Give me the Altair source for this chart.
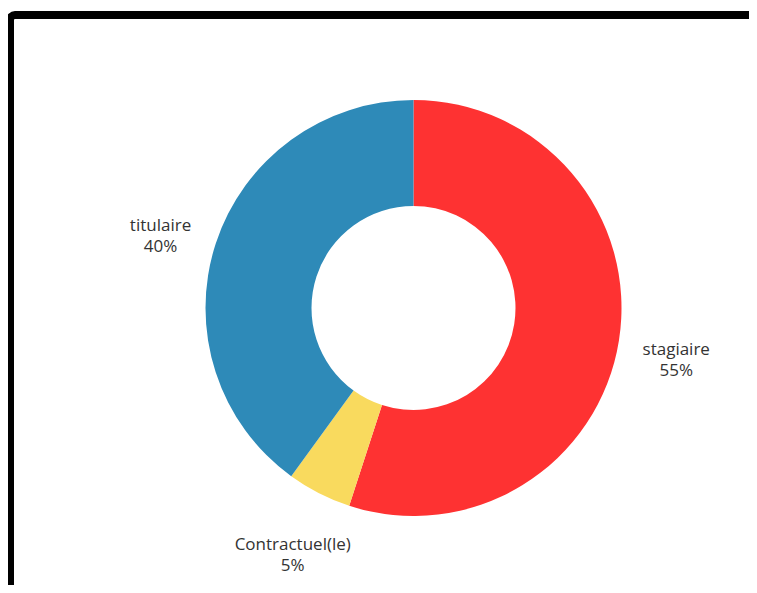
import altair as alt
import pandas as pd

categories = ["stagiaire", "Contractuel(le)", "titulaire"]
values = [55, 5, 40]
colors = ["#FE3232", "#F9DA5E", "#2E8AB8"]

df = pd.DataFrame({
    "categorie": categories,
    "valeur": values,
    "ordre": list(range(len(categories))),
})
df["label"] = [f"{c}\n{v}%" for c, v in zip(categories, values)]

CX, CY = 405.5, 300

base = alt.Chart(df).encode(
    theta=alt.Theta("valeur:Q", stack=True),
    order=alt.Order("ordre:Q"),
    x=alt.value(CX),
    y=alt.value(CY),
)

arcs = base.mark_arc(innerRadius=102, outerRadius=208).encode(
    color=alt.Color("categorie:N",
                    scale=alt.Scale(domain=categories, range=colors),
                    legend=None)
)

labels = base.mark_text(
    radius=266, font="Open Sans", fontSize=17, color="#333333",
    lineBreak="\n", lineHeight=21, align="center", baseline="middle"
).encode(text="label:N")

frame = alt.Chart(alt.Data(values=[{"a": 1}])).mark_rect(
    fill="transparent", stroke="black", strokeWidth=8, cornerRadius=5
).encode(
    x=alt.value(2), y=alt.value(7), x2=alt.value(3000), y2=alt.value(3000)
)

chart = alt.layer(frame, arcs, labels).properties(
    width=741, height=577,
    padding=0,
    autosize=alt.AutoSizeParams(type="none"),
    background="white",
).configure_view(stroke=None)

chart.save("out.html", embed_options={"renderer": "svg", "actions": False})
